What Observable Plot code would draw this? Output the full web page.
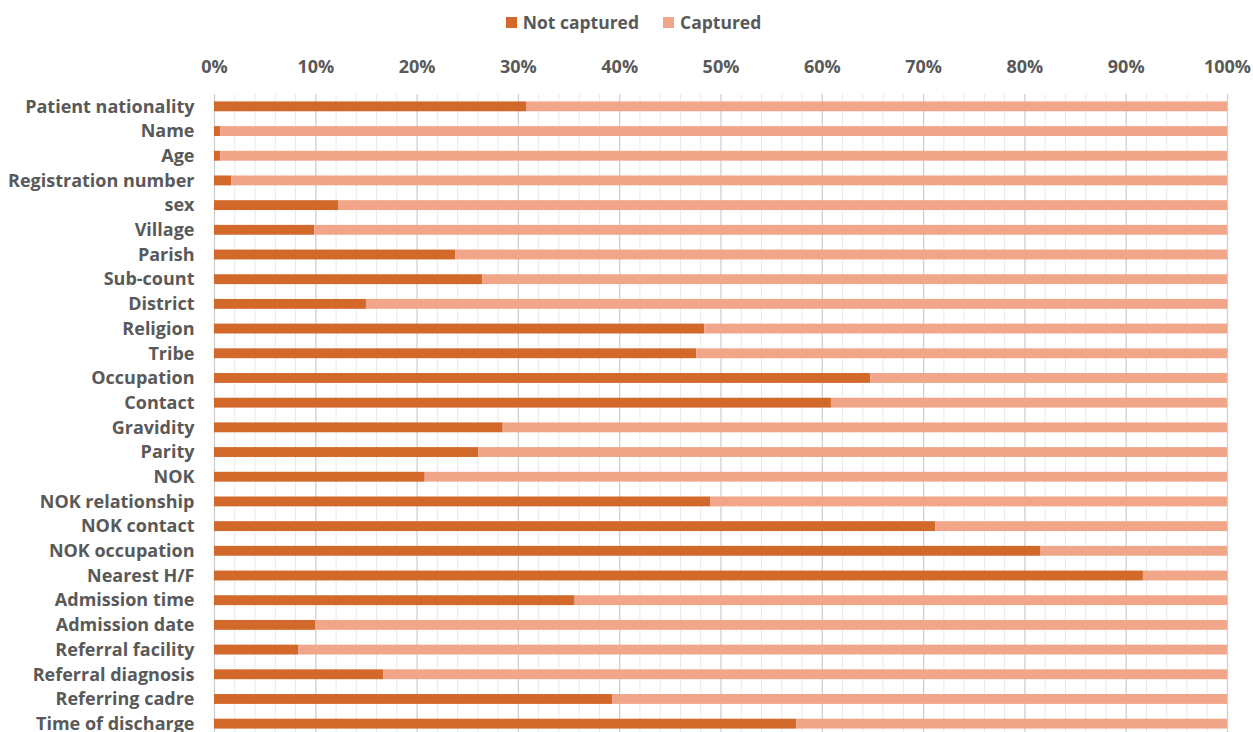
<!DOCTYPE html>
<html>
<head>
<meta charset="utf-8">
<script src="https://cdn.jsdelivr.net/npm/d3@7"></script>
<script src="https://cdn.jsdelivr.net/npm/@observablehq/plot@0.6"></script>
<style>
  html, body { margin: 0; padding: 0; background: #fff; }
  body { width: 1253px; font-family: "Open Sans", sans-serif; }
  #legend { height: 44px; display: flex; justify-content: center; align-items: center; gap: 24px;
            font: 700 17.5px "Open Sans", sans-serif; color: #595959; padding-left: 14px; box-sizing: border-box; }
  #legend span.item { display: inline-flex; align-items: center; gap: 6px; }
  #legend i { display: inline-block; width: 11px; height: 11px; }
  svg { display: block; }
</style>
</head>
<body>
<div id="legend"></div>
<div id="chart"></div>
<script>
// Data fields checked in the admission register
const fields = [
  "Patient nationality", "Name", "Age", "Registration number", "sex", "Village",
  "Parish", "Sub-count", "District", "Religion", "Tribe", "Occupation", "Contact",
  "Gravidity", "Parity", "NOK", "NOK relationship", "NOK contact", "NOK occupation",
  "Nearest H/F", "Admission time", "Admission date", "Referral facility",
  "Referral diagnosis", "Referring cadre", "Time of discharge"
];

// Share of records where the field was not captured (%)
const notCaptured = [
  30.8, 0.6, 0.6, 1.7, 12.3, 9.9,
  23.8, 26.5, 15.0, 48.4, 47.6, 64.8, 60.9,
  28.5, 26.1, 20.8, 49.0, 71.2, 81.6,
  91.7, 35.6, 10.0, 8.3,
  16.7, 39.3, 57.5
];

// Share captured is the remainder to 100%
const captured = notCaptured.map(v => 100 - v);

const seriesNames = ["Not captured", "Captured"];
const seriesColors = ["#d2692b", "#f1a68a"];

const rows = fields.flatMap((f, i) => [
  {field: f, status: seriesNames[0], value: notCaptured[i]},
  {field: f, status: seriesNames[1], value: captured[i]}
]);

const majorTicks = d3.range(0, 101, 10);
const minorTicks = d3.range(0, 101, 2).filter(v => v % 10 !== 0);

// Legend above the chart
const legend = document.getElementById("legend");
seriesNames.forEach((name, i) => {
  const item = document.createElement("span");
  item.className = "item";
  item.innerHTML = `<i style="background:${seriesColors[i]}"></i>${name}`;
  legend.appendChild(item);
});

const chart = Plot.plot({
  width: 1253,
  height: 692,
  marginTop: 50,
  marginLeft: 214,
  marginRight: 26,
  marginBottom: 0,
  style: {fontFamily: "Open Sans, sans-serif", fontSize: "18px", fontWeight: 700, color: "#595959", overflow: "visible"},
  x: {domain: [0, 100], axis: null},
  y: {domain: fields, paddingInner: 0.6, paddingOuter: 0.3, round: false, axis: null},
  color: {domain: seriesNames, range: seriesColors},
  marks: [
    Plot.ruleX(minorTicks, {stroke: "#e9e9e9", strokeWidth: 1}),
    Plot.ruleX(majorTicks, {stroke: "#cfcfcf", strokeWidth: 1.3}),
    Plot.axisX(majorTicks, {
      anchor: "top", tickSize: 0, tickPadding: 22, label: null,
      tickFormat: d => d + "%", fill: "#595959", fontSize: 18, fontWeight: 700
    }),
    Plot.axisY({
      anchor: "left", tickSize: 0, tickPadding: 20, label: null,
      fill: "#595959", fontSize: 18, fontWeight: 700
    }),
    Plot.barX(rows, Plot.stackX({x: "value", y: "field", fill: "status", order: null}))
  ]
});

document.getElementById("chart").appendChild(chart);
</script>
</body>
</html>
